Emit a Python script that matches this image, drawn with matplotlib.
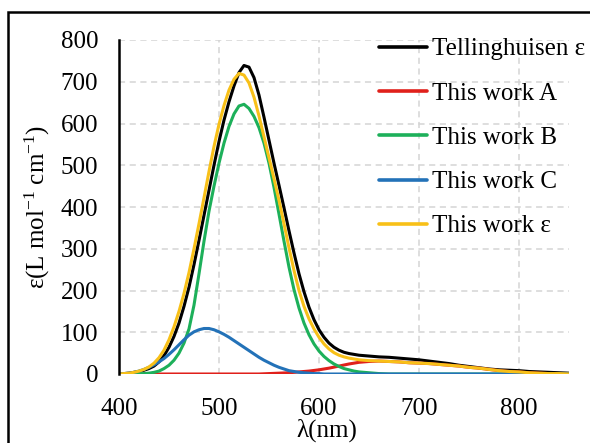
import numpy as np
import matplotlib
matplotlib.use('Agg')
import matplotlib.pyplot as plt
from matplotlib.patches import Rectangle

# wavelength grid (nm)
wl = [400, 405, 410, 415, 420, 425, 430, 435, 440, 445, 450, 455, 460, 465, 470, 475,
      480, 485, 490, 495, 500, 505, 510, 515, 520, 525, 530, 535, 540, 545, 550, 555,
      560, 565, 570, 575, 580, 585, 590, 595, 600, 605, 610, 615, 620, 625, 630, 635,
      640, 645, 650, 660, 670, 680, 690, 700, 710, 720, 730, 740, 750, 760, 770, 780,
      790, 800, 810, 820, 830, 840, 850]

tellinghuisen = [0, 1, 2, 4, 6, 9, 13, 19, 29, 44, 64, 90, 122, 162, 208, 262,
                 320, 380, 440, 500, 557, 608, 652, 690, 722, 739, 735, 710, 668, 615, 560, 505,
                 452, 398, 343, 290, 240, 197, 160, 130, 106, 88, 74, 64, 57, 52, 49, 47,
                 45, 44, 43, 41, 40, 38, 36, 34, 31, 28, 25, 21, 18, 15, 12, 10,
                 9, 8, 6, 5, 4, 3, 2]

work_a = [0, 0, 0, 0, 0, 0, 0, 0, 0, 0, 0, 0, 0, 0, 0, 0,
          0, 0, 0, 0, 0, 0, 0, 0, 0, 0, 0, 0, 0, 0.5, 1, 1.5,
          2, 2.5, 3, 4, 5, 6, 7, 8.5, 10, 12, 14, 16.5, 19, 21.5, 24, 26,
          28, 29, 30, 31, 30, 29, 27, 26, 25, 23, 21, 19, 16, 14, 11, 8,
          6, 5, 3, 2, 1, 1, 0]

work_b = [0, 0, 0, 0, 1, 1, 2, 4, 7, 13, 21, 33, 50, 74, 108, 165,
          240, 318, 390, 450, 505, 553, 593, 623, 642, 646, 636, 617, 590, 553, 505, 447,
          383, 318, 256, 202, 158, 122, 94, 72, 55, 42, 32, 24, 18, 13, 10, 7,
          5, 4, 3, 1, 0, 0, 0, 0, 0, 0, 0, 0, 0, 0, 0, 0,
          0, 0, 0, 0, 0, 0, 0]

work_c = [0, 1, 2, 4, 7, 11, 16, 22, 29, 37, 47, 58, 70, 82, 93, 101,
          106, 109, 109, 106, 101, 95, 88, 80, 72, 64, 56, 48, 40, 33, 27, 21,
          16, 12, 8, 6, 4, 3, 2, 1, 1, 0, 0, 0, 0, 0, 0, 0,
          0, 0, 0, 0, 0, 0, 0, 0, 0, 0, 0, 0, 0, 0, 0, 0,
          0, 0, 0, 0, 0, 0, 0]

work_eps = [0, 1, 2, 4, 7, 11, 17, 26, 39, 57, 82, 113, 150, 193, 243, 300,
            360, 422, 485, 545, 598, 643, 680, 706, 720, 716, 697, 663, 618, 568, 518, 468,
            416, 360, 302, 248, 200, 162, 132, 108, 88, 72, 60, 51, 45, 41, 38, 36,
            34, 33, 32, 31, 30, 29, 27, 26, 25, 23, 21, 19, 16, 14, 11, 8,
            6, 5, 3, 2, 1, 1, 0]

labels = ['Tellinghuisen ε', 'This work A', 'This work B', 'This work C', 'This work ε']
colors = ['#000000', '#E0201B', '#1DB05A', '#2372B8', '#F8C018']

plt.rcParams['font.family'] = ['Liberation Serif', 'DejaVu Serif']
plt.rcParams['mathtext.fontset'] = 'custom'
plt.rcParams['mathtext.rm'] = 'Liberation Serif'
plt.rcParams['mathtext.it'] = 'Liberation Serif:italic'

fig = plt.figure(figsize=(5.9, 4.43), dpi=100)
ax = fig.add_axes([119 / 590, 1 - 374 / 443, 450 / 590, 334 / 443])

series = [tellinghuisen, work_a, work_b, work_c, work_eps]
for vals, lab, col in zip(series, labels, colors):
    ax.plot(wl, vals, color=col, lw=2.2, label=lab,
            solid_capstyle='round', solid_joinstyle='round')

ax.set_xlim(400, 850)
ax.set_ylim(0, 800)
ax.set_xticks([400, 500, 600, 700, 800])
ax.set_yticks(range(0, 801, 100))
ax.grid(True, color='#d4d4d4', ls=(0, (4, 3)), lw=1.1)
ax.set_axisbelow(True)

for s in ['top', 'right', 'bottom']:
    ax.spines[s].set_visible(False)
ax.spines['left'].set_linewidth(1.8)
ax.tick_params(length=0, labelsize=18)
ax.tick_params(axis='y', pad=15)
ax.tick_params(axis='x', pad=17)

ax.set_xlabel('λ(nm)', fontsize=18, labelpad=0)
ax.xaxis.set_label_coords(0.462, -0.133)
ax.set_ylabel(r'ε(L mol$^{-1}$ cm$^{-1}$)', fontsize=18)
ax.yaxis.set_label_coords(-0.15, 0.5)

leg = ax.legend(loc='upper left', bbox_to_anchor=(379 / 590, 1 - 38 / 443),
                bbox_transform=fig.transFigure, frameon=False, fontsize=18,
                handlelength=1.9, handletextpad=0.2, labelspacing=0.87,
                borderpad=0, borderaxespad=0)
for ln in leg.get_lines():
    ln.set_linewidth(2.6)

# outer frame of the image
fig.add_artist(Rectangle((8 / 590, -0.1), 1.2, 1 - 12 / 443 + 0.1,
                         transform=fig.transFigure, fill=False, lw=1.8,
                         edgecolor='black'))

fig.savefig('out.png', dpi=100)
